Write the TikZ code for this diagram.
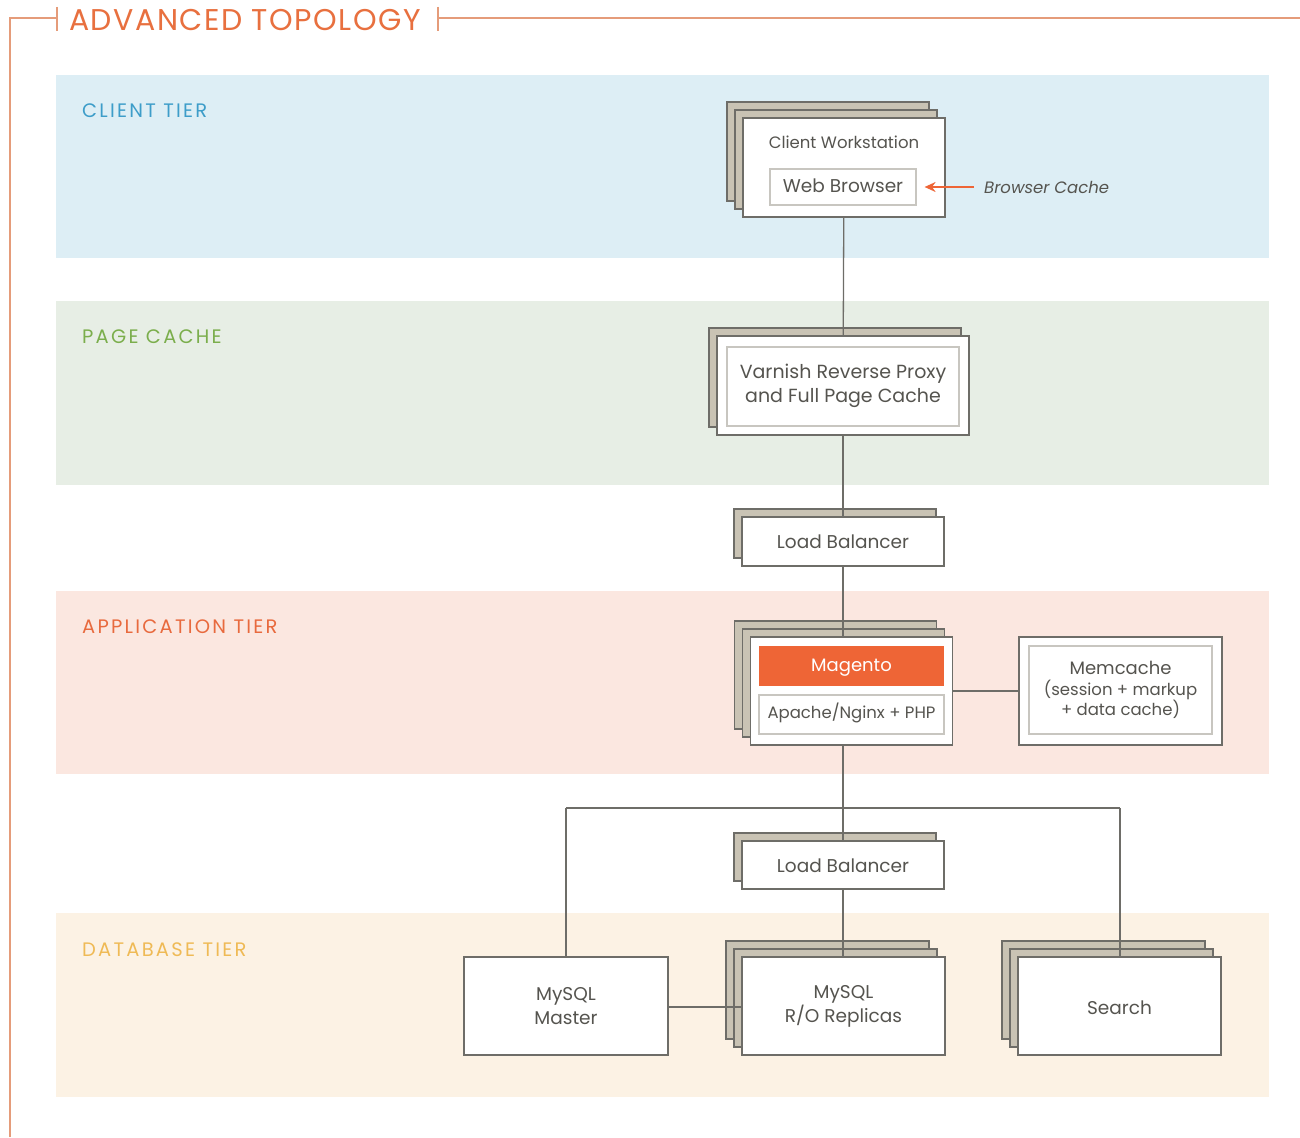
\documentclass[tikz,border=0pt]{standalone}
\usepackage{fontspec}
\setmainfont{Poppins}
\newfontfamily\spacedfont[LetterSpace=11.5]{Poppins}
\newfontfamily\titlefont[LetterSpace=5]{Poppins}
\usetikzlibrary{arrows.meta}
\definecolor{framec}{HTML}{E59C7A}
\definecolor{titlec}{HTML}{E8703F}
\definecolor{clientbg}{HTML}{DDEEF5}
\definecolor{pagebg}{HTML}{E7EEE5}
\definecolor{appbg}{HTML}{FBE7E0}
\definecolor{dbbg}{HTML}{FCF2E4}
\definecolor{clientc}{HTML}{3D9DC9}
\definecolor{pagec}{HTML}{7BAE4C}
\definecolor{appc}{HTML}{E86A3E}
\definecolor{dbc}{HTML}{EFBA55}
\definecolor{edgec}{HTML}{6E6D68}
\definecolor{txtc}{HTML}{55544F}
\definecolor{shadowc}{HTML}{C9C3B4}
\definecolor{magc}{HTML}{EE6536}
\definecolor{innerc}{HTML}{C8C6C0}
\begin{document}
\begin{tikzpicture}[x=1pt,y=-1pt,
  tierlabel/.style={anchor=west,inner sep=0,font=\spacedfont\fontsize{19.5}{22}\selectfont},
  backbox/.style={draw=edgec,line width=1.4pt,fill=shadowc,inner sep=0},
  frontbox/.style={draw=edgec,line width=1.4pt,fill=white,inner sep=0},
  innerbox/.style={draw=innerc,line width=1.2pt,fill=white,inner sep=0,text=txtc},
  lbl/.style={text=txtc,inner sep=0,align=center,font=\fontsize{18.5}{24}\selectfont},
  conn/.style={draw=edgec,line width=1.3pt},
  framel/.style={draw=framec,line width=1.5pt}]
\useasboundingbox (0,0) rectangle (1300,1137);
\fill[white] (0,0) rectangle (1300,1137);
% bands
\fill[clientbg] (56,75) rectangle (1269,258);
\fill[pagebg] (56,301) rectangle (1269,485);
\fill[appbg] (56,591) rectangle (1269,774);
\fill[dbbg] (56,913) rectangle (1269,1097);
\node[tierlabel,text=clientc] (lclient) at (82,111) {CLIENT TIER};
\node[tierlabel,text=pagec] (lpage) at (82,337) {PAGE CACHE};
\node[tierlabel,text=appc] (lapp) at (82,627) {APPLICATION TIER};
\node[tierlabel,text=dbc] (ldb) at (82,950) {DATABASE TIER};
% frame and title
\node[anchor=west,inner sep=0,text=titlec,font=\titlefont\fontsize{30}{33}\selectfont] (title) at (69,20) {ADVANCED TOPOLOGY};
\draw[framel] (10,1137) -- (10,18) -- (57,18);
\draw[framel] (57,7) -- (57,31);
\draw[framel] (438,7) -- (438,31);
\draw[framel] (438,18) -- (1300,18);
% back boxes
\node[backbox,minimum width=202,minimum height=99] (cwb2) at (828,151.5) {};
\node[backbox,minimum width=202,minimum height=99] (cwb1) at (836,159.5) {};
\node[backbox,minimum width=252,minimum height=99] (vab1) at (835,377.5) {};
\node[backbox,minimum width=202,minimum height=49] (lbab1) at (835,533.5) {};
\node[backbox,minimum width=202,minimum height=108] (mgb2) at (835.7,675) {};
\node[backbox,minimum width=202,minimum height=108] (mgb1) at (843.7,683) {};
\node[backbox,minimum width=202,minimum height=48] (lbbb1) at (835,857) {};
\node[backbox,minimum width=203,minimum height=98] (rpb2) at (827.5,990) {};
\node[backbox,minimum width=203,minimum height=98] (rpb1) at (835.5,998) {};
\node[backbox,minimum width=203,minimum height=98] (seb2) at (1103.5,990) {};
\node[backbox,minimum width=203,minimum height=98] (seb1) at (1111.5,998) {};
% coordinates of the bus
\coordinate (jl) at (566,808);
\coordinate (jc) at (843,808);
\coordinate (jr) at (1120,808);
% front box positions
\path (844,167.5) coordinate (cwpos) (843,385.5) coordinate (vapos) (843,541.5) coordinate (lbapos)
      (851.7,691) coordinate (mgpos) (843,865) coordinate (lbbpos);
% connectors
\draw[conn] (cwpos) -- (vapos);
\draw[conn] (vapos) -- (lbapos);
\draw[conn] (lbapos) -- (lbapos |- mgpos);
\draw[conn] (lbapos |- mgpos) -- (jc);
\draw[conn] (jc) -- (lbbpos);
\draw[conn] (jl) -- (jr);
\draw[conn] (lbbpos) -- (843,1006);
\draw[conn] (jl) -- (566,1006);
\draw[conn] (jr) -- (1120,1006);
\draw[conn] (566,1007) -- (843,1007);
\draw[conn] (851,691) -- (1120,691);
% front boxes
\node[frontbox,minimum width=202,minimum height=99] (cw) at (cwpos) {};
\node[lbl,font=\fontsize{16.5}{20}\selectfont] (cwt) at (844,142) {Client Workstation};
\node[innerbox,minimum width=146,minimum height=36] (wb) at (843,187) {};
\node[lbl] (wbt) at (843,186) {Web Browser};
\node[anchor=west,inner sep=0,text=txtc,font=\fontsize{16.5}{20}\itshape] (bc) at (984,187) {Browser Cache};
\draw[draw=magc,line width=1.5pt,-{Stealth[length=11pt,width=10pt]}] ([xshift=-10pt]bc.west) -- ([xshift=8pt]wb.east);
\node[frontbox,minimum width=252,minimum height=99] (va) at (vapos) {};
\node[innerbox,minimum width=232,minimum height=79] (vai) at (843,386.5) {};
\node[lbl,font=\fontsize{19}{24}\selectfont] (vat) at (843,386) {Varnish Reverse Proxy\\and Full Page Cache};
\node[frontbox,minimum width=202,minimum height=49] (lba) at (lbapos) {};
\node[lbl] (lbat) at (843,542) {Load Balancer};
\node[frontbox,minimum width=202,minimum height=108] (mg) at (mgpos) {};
\node[fill=magc,minimum width=185,minimum height=40,inner sep=0] (mgo) at (851.5,666) {};
\node[lbl,text=white,font=\fontsize{18}{20}\selectfont] (mgt) at (851.5,667.5) {Magento};
\node[innerbox,minimum width=185,minimum height=39] (ap) at (851.5,714.5) {};
\node[lbl,font=\fontsize{16.5}{20}\selectfont] (apt) at (851.5,713) {Apache/Nginx + PHP};
\node[frontbox,minimum width=203,minimum height=108] (mc) at (1120.3,691) {};
\node[innerbox,minimum width=183,minimum height=88] (mci) at (1120.5,690) {};
\node[lbl,font=\fontsize{16.5}{20.5}\selectfont] (mct) at (1120.5,690) {{\fontsize{18}{20}\selectfont Memcache}\\(session + markup\\+ data cache)};
\node[frontbox,minimum width=202,minimum height=48] (lbb) at (lbbpos) {};
\node[lbl] (lbbt) at (843,866) {Load Balancer};
\node[frontbox,minimum width=204,minimum height=98] (ms) at (566,1006) {};
\node[lbl] (mst) at (566,1006) {MySQL\\Master};
\node[frontbox,minimum width=203,minimum height=98] (rp) at (843.5,1006) {};
\node[lbl] (rpt) at (843.5,1006) {MySQL\\R/O Replicas};
\node[frontbox,minimum width=203,minimum height=98] (se) at (1119.5,1006) {};
\node[lbl] (set) at (1119.5,1008) {Search};
\end{tikzpicture}
\end{document}
